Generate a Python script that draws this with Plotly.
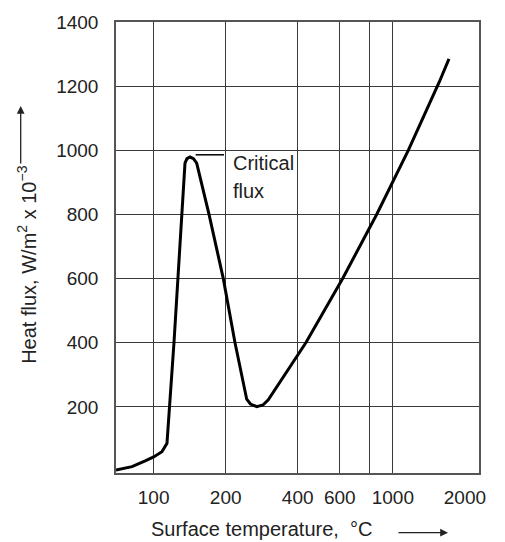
import plotly.graph_objects as go

# Data
surface_temp = [69.6, 81.2, 92.2, 100, 108.3, 113.7, 121.6, 126.3, 131, 135.2, 137.8, 141.9,
                146.7, 151.3, 170.4, 195.5, 218.8, 244.9, 253.9, 269.6, 286.4, 301.4,
                433.3, 616.8, 855.4, 1159.7, 1563, 1716]
heat_flux = [3.4, 13.7, 31.5, 44, 60.5, 87, 400, 600, 800, 960, 974, 979,
             974, 960, 800, 600, 400, 224, 209, 201, 206, 222,
             400.6, 600.3, 800, 999.7, 1213, 1285]

x_tick_vals = [100, 200, 400, 600, 1000, 2000]
x_tick_text = ["100", "200", "400", "600", "1000", "2000"]
x_grid_vals = [100, 200, 400, 600, 800, 1000]
y_tick_vals = [200, 400, 600, 800, 1000, 1200, 1400]
y_grid_vals = [200, 400, 600, 800, 1000, 1200]

FONT = "Liberation Sans, Arial, Helvetica, sans-serif"
GRID = "#3a3a3a"

fig = go.Figure()
fig.add_trace(go.Scatter(x=surface_temp, y=heat_flux, mode="lines",
                         line=dict(color="black", width=3), showlegend=False,
                         hoverinfo="skip"))

fig.update_layout(
    width=505, height=542,
    margin=dict(l=116, r=26, t=22, b=69, autoexpand=False),
    paper_bgcolor="white", plot_bgcolor="white",
    font=dict(family=FONT, size=19, color="#222"),
    xaxis=dict(type="log", range=[1.8426, 3.360], automargin=False,
               tickmode="array", tickvals=x_tick_vals, ticktext=x_tick_text,
               showgrid=False, zeroline=False,
               ticks="outside", ticklen=6, tickcolor="rgba(0,0,0,0)",
               showline=True, mirror=True, linecolor="#555", linewidth=1.5,
               minor=dict(tickmode="array", tickvals=x_grid_vals, showgrid=True,
                          gridcolor=GRID, gridwidth=1.2, ticks="")),
    yaxis=dict(range=[-6, 1400], automargin=False,
               tickmode="array", tickvals=y_tick_vals,
               showgrid=False, zeroline=False,
               ticks="outside", ticklen=12, tickcolor="rgba(0,0,0,0)",
               showline=True, mirror=True, linecolor="#555", linewidth=1.5,
               minor=dict(tickmode="array", tickvals=y_grid_vals, showgrid=True,
                          gridcolor=GRID, gridwidth=1.2, ticks="")),
)

# Critical flux leader line and label
fig.add_shape(type="line", xref="x", yref="y", x0=149.8, x1=196.8, y0=986, y1=986,
              line=dict(color="black", width=1.5))
fig.add_annotation(x=2.322, y=961, xref="x", yref="y", text="Critical",
                   showarrow=False, xanchor="left", yanchor="middle",
                   font=dict(size=20, color="#222"))
fig.add_annotation(x=2.322, y=872, xref="x", yref="y", text="flux",
                   showarrow=False, xanchor="left", yanchor="middle",
                   font=dict(size=20, color="#222"))

# Axis titles
fig.add_annotation(x=(261 - 116) / 363, y=(473.3 - 529.5) / 451.3, xref="paper", yref="paper",
                   text="Surface temperature,  °C", showarrow=False,
                   xanchor="center", yanchor="middle", font=dict(size=20, color="#222"))
fig.add_annotation(x=0.9146, y=(473.3 - 533) / 451.3, xref="paper", yref="paper",
                   text="", showarrow=True, ax=-51, ay=0, arrowhead=2, arrowsize=1.2,
                   arrowwidth=1.3, arrowcolor="#222")
fig.add_annotation(x=(27 - 116) / 363, y=(473.3 - 265) / 451.3, xref="paper", yref="paper",
                   text="Heat flux, W/m<sup>2</sup> x 10<sup>\u22123</sup>", showarrow=False,
                   textangle=-90, xanchor="center", yanchor="middle",
                   font=dict(size=20, color="#222"))
fig.add_annotation(x=(20.7 - 116) / 363, y=(473.3 - 106) / 451.3, xref="paper", yref="paper",
                   text="", showarrow=True, ax=0, ay=59, arrowhead=2, arrowsize=1.2,
                   arrowwidth=1.3, arrowcolor="#222")

fig.write_html("out.html", config={"displayModeBar": False},
               post_script="document.body.style.margin='0px';document.body.style.overflow='hidden';")
